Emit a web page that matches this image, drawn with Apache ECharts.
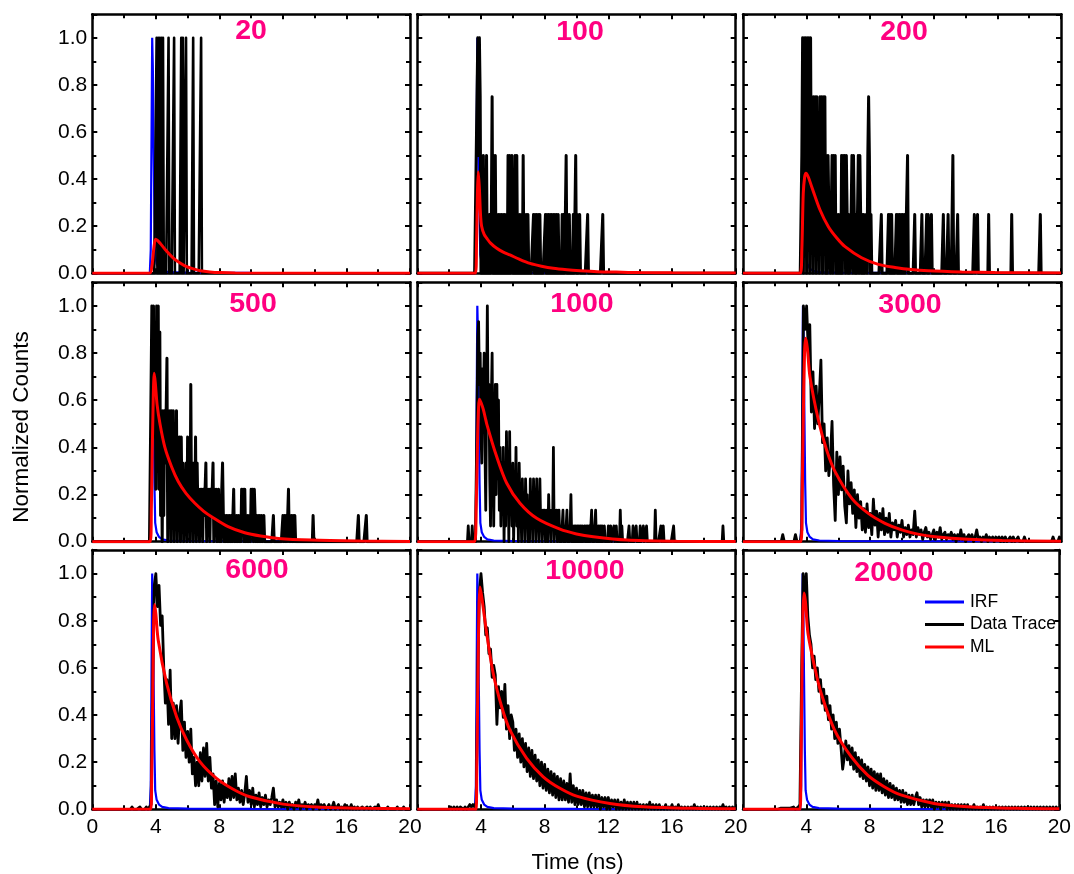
<!DOCTYPE html>
<html><head><meta charset="utf-8">
<script src="https://cdn.jsdelivr.net/npm/echarts@6/dist/echarts.min.js"></script>
<style>html,body{margin:0;padding:0;background:#fff}#c{width:1074px;height:874px}</style>
</head><body><div id="c"></div>
<script>
// ---------------- DATA ----------------
const panelTitles = ['20','100','200','500','1000','3000','6000','10000','20000'];
const xTickStep = 4;          // ns
const yTickStep = 0.2;
const channelWidth = 0.05;    // ns, photon-count histogram channels (sparse panels)
const denseStart = 2.0, denseStep = 0.1; // ns, normalized traces (high-count panels)

// Instrument response function (same for every panel)
const irf = [[0,0],[3.62,0],[3.68,0.1],[3.73,0.6],[3.77,1],[3.81,0.88],[3.86,0.55],[3.91,0.25],[3.96,0.08],[4.05,0.04],[4.2,0.02],[4.4,0.01],[4.8,0.005],[6,0.003],[10,0.002],[20,0.001]];

// Photon counts per channel ([time ns, counts])
const counts20 = [[4.05,1],[4.15,1],[4.25,1],[4.35,1],[4.45,1],[4.8,1],[5.15,1],[5.6,1],[5.7,1],[5.9,1],[6.35,1],[6.85,1]];

const counts100Start = 3.70;
const counts100 = [0,3,4,2,4,3,0,1,0,2, 0,1,0,2,0,1,0,1,0,1, 3,0,2,0,2,0,1,0,1,0, 1,0,1,0,1,0,1,0,1,0, 2,0,2,0,0,2,0,1,0,2, 0,2,0,1,0,1,0,1,0,2, 0,1,0,1,0,1,0,0,0,0, 0,0,1,0,1,0,1,0,1,0, 1,0,0,0,0,0,0,1,0,1, 0,1,0,1,0,1,0,1,0,1, 0,1,0,1,0,0,0,0,1,0, 1,0,0,2,0,1,0,1,0,0, 0,0,1,0,0,2,0,1,0,0, 1];
const tail100 = [[10.7,1],[11.65,1]];

const counts200Start = 3.65;
const counts200 = [0,2,4,0,4,1,4,0,4,1, 4,0,4,1,3,0,3,1,3,0, 3,1,2,0,3,1,3,0,3,1, 3,0,2,0,2,1,1,0,1,2, 0,2,1,2,0,1,0,1,0,1, 0,2,0,2,1,2,0,2,1,0, 1,0,0,1,2,0,2,1,0,1, 0,1,2,0,2,1,0,1,0,1, 0,0,1,0,2,3,2,0,1,0];
const tail200 = [[8.7,1],[9.15,1],[9.25,1],[9.35,1],[9.65,1],[9.75,1],[9.85,1],[9.95,1],[10.05,1],[10.15,1],[10.35,2],[10.8,1],[11.25,1],[11.55,1],[11.65,1],[11.85,1],[12.6,1],[12.9,1],[13.2,2],[13.5,1],[14.55,1],[14.75,1],[15.45,1],[16.9,1],[18.7,1]];

const counts500Start = 3.70;
const counts500 = [0,9,5,9,4,8,2,9,3,9, 2,8,1,5,0,5,1,5,3,5, 7,0,5,2,5,0,5,1,5,0, 4,1,5,0,4,1,4,0,4,1, 3,0,2,1,3,0,4,1,3,0, 6,1,3,0,3,1,4,0,3,1, 2,0,2,1,2,0,2,1,2,3, 0,2,1,2,0,2,1,2,3,0, 2,1,2,0,1,2,0,1,0,2, 3,1,0,1,0,1,0,1,0,1, 0,1,0,1,2,0,1,0,1,0, 1,0,1,0,2,1,2,0,2,0, 1,0,1,0,1,0,2,1,2,0, 2,1,0,1,0,1,0,1,0,1];
const tail500 = [[10.8,1],[11.4,1],[12.0,1],[12.1,1],[12.2,1],[12.35,2],[12.45,1],[12.55,1],[12.65,1],[12.75,1],[13.9,1],[16.75,1],[17.25,1]];

const counts1000Start = 3.70;
const counts1000 = [0,8,13,14,10,12,7,5,11,9, 12,6,2,9,15,8,10,4,1,9, 12,5,1,6,10,3,10,4,9,2, 6,1,5,2,6,0,5,1,7,3, 5,0,7,2,4,1,5,0,3,2, 6,1,4,0,5,2,3,0,4,1, 3,0,4,2,3,0,2,0,4,1, 3,0,4,2,3,0,4,1,2,0, 4,1,2,0,2,1,2,0,1,2, 0,3,1,2,0,2,1,6,0,2, 1,2,0,1,2,0,1,0,1,2, 0,1,0,1,2,0,1,0,1,3, 0,1,0,1,0,1,0,1,0,1, 0,1,0,1,0,0,1,0,1,0, 1,0,1,0,1,2,0,1,0,1, 2,0,1,0,1,0,1,0,1,0, 0,1];
const tail1000 = [[3.2,1],[3.45,1],[12.0,1],[12.15,1],[12.35,1],[12.5,1],[12.75,2],[12.85,1],[13.3,1],[13.55,1],[13.75,1],[14.0,1],[14.2,1],[14.4,1],[14.95,2],[15.3,1],[15.45,1],[16.1,1],[19.2,1]];

// Normalized traces, one value every 0.1 ns from 2.0 ns to 20.0 ns
const trace3000 = [0,0,0,0,0,0.03,0,0,0,0, 0,0,0,0.03,0,0,0,0.05,1.0,0.9, 1.0,0.82,0.92,0.55,0.72,0.48,0.66,0.5,0.62,0.77, 0.42,0.5,0.3,0.44,0.28,0.36,0.51,0.24,0.09,0.38, 0.2,0.36,0.22,0.32,0.15,0.08,0.3,0.16,0.25,0.12, 0.22,0.06,0.2,0.1,0.17,0.05,0.14,0.04,0.16,0.06, 0.12,0.03,0.18,0.07,0.13,0.02,0.12,0.05,0.14,0.03, 0.1,0.04,0.12,0.02,0.08,0.05,0.09,0.02,0.07,0.04, 0.09,0.02,0.06,0.03,0.07,0.02,0.05,0.03,0.13,0.02, 0.06,0.03,0.05,0.01,0.04,0.06,0.02,0.04,0.01,0.03, 0.05,0.01,0.04,0.02,0.06,0.01,0.03,0.04,0.01,0.03, 0.02,0.04,0.01,0.03,0,0.03,0.01,0.05,0.01,0.03, 0,0.02,0.03,0.01,0.03,0,0.02,0.05,0.01,0.02, 0,0.02,0.01,0.03,0,0.02,0.01,0.02,0,0.02, 0.01,0.02,0,0.02,0,0.02,0,0,0.02,0, 0.02,0,0,0.02,0,0,0,0.02,0,0, 0,0,0,0,0,0,0,0,0,0, 0,0,0,0,0,0.02,0,0,0,0.02, 0];
const trace6000 = [0,0,0,0,0,0.01,0,0,0,0, 0.01,0,0,0,0.01,0,0,0.02,0.55,0.95, 1.0,0.86,0.95,0.78,0.82,0.6,0.45,0.55,0.36,0.59, 0.3,0.45,0.3,0.44,0.28,0.41,0.46,0.25,0.37,0.22, 0.33,0.2,0.34,0.15,0.22,0.1,0.2,0.1,0.24,0.12, 0.26,0.14,0.28,0.12,0.22,0.09,0.15,0.02,0.12,0.01, 0.11,0.04,0.12,0.03,0.1,0.05,0.13,0.04,0.14,0.05, 0.15,0.04,0.09,0.03,0.08,0.02,0.07,0.14,0.03,0.08, 0.02,0.09,0.01,0.06,0.02,0.07,0.01,0.05,0.02,0.06, 0.01,0.04,0.02,0.05,0.09,0.01,0.04,0.01,0.03,0.01, 0.04,0.01,0.03,0,0.03,0.01,0.02,0,0.03,0.01, 0.04,0,0.02,0.01,0.03,0,0.02,0.01,0.02,0, 0.02,0.01,0.04,0,0.02,0.01,0.02,0,0.01,0.02, 0,0.01,0.03,0,0.01,0.02,0,0.01,0,0.02, 0,0.01,0,0.02,0,0.01,0,0.01,0,0, 0.01,0,0,0.01,0,0.01,0,0,0.01,0, 0.02,0,0,0,0,0,0.01,0,0,0, 0,0,0.01,0,0,0,0.01,0,0,0, 0];
const trace10000 = [0,0.01,0,0.01,0,0.01,0,0.01,0.01,0, 0.01,0,0.01,0.02,0.01,0.02,0.01,0.03,0.6,0.92, 1.0,0.92,0.86,0.74,0.77,0.66,0.68,0.56,0.61,0.57, 0.36,0.52,0.43,0.5,0.39,0.53,0.34,0.44,0.3,0.4, 0.37,0.25,0.34,0.22,0.32,0.2,0.3,0.18,0.28,0.16, 0.26,0.14,0.25,0.13,0.23,0.12,0.21,0.1,0.2,0.09, 0.19,0.08,0.17,0.07,0.16,0.06,0.15,0.05,0.14,0.04, 0.13,0.04,0.12,0.04,0.11,0.03,0.15,0.03,0.1,0.02, 0.09,0.02,0.08,0.02,0.08,0.01,0.07,0.01,0.07,0.01, 0.06,0.01,0.06,0.01,0.06,0,0.05,0.01,0.05,0, 0.05,0,0.04,0.01,0.04,0,0.04,0,0.03,0, 0.04,0,0.03,0,0.03,0,0.03,0,0.03,0, 0.02,0,0.02,0,0.02,0,0.03,0,0.02,0, 0.02,0,0.02,0,0.01,0,0.02,0,0.01,0, 0.02,0,0.01,0,0.02,0,0.01,0,0.01,0, 0.01,0,0.01,0,0.02,0,0.01,0,0.01,0, 0.01,0,0.01,0,0.01,0,0.01,0,0.01,0, 0.01,0,0.02,0,0.01,0,0.01,0,0.01,0, 0.01];
const trace20000 = [0,0,0,0,0.005,0,0.005,0,0.005,0, 0.005,0,0.01,0,0.005,0.01,0.02,0.55,1.0,0.9, 1.0,0.82,0.74,0.7,0.6,0.65,0.55,0.6,0.5,0.55, 0.45,0.51,0.42,0.48,0.38,0.44,0.34,0.4,0.3,0.37, 0.28,0.34,0.26,0.17,0.22,0.29,0.21,0.27,0.19,0.26, 0.17,0.24,0.16,0.22,0.14,0.21,0.13,0.19,0.12,0.18, 0.1,0.17,0.09,0.16,0.08,0.15,0.08,0.15,0.07,0.13, 0.06,0.12,0.05,0.11,0.05,0.1,0.04,0.09,0.04,0.08, 0.03,0.08,0.03,0.07,0.02,0.06,0.02,0.06,0.02,0.05, 0.07,0.02,0.05,0.01,0.04,0.01,0.04,0.01,0.04,0.01, 0.04,0,0.03,0.01,0.03,0,0.03,0.01,0.03,0, 0.03,0,0.02,0,0.02,0,0.02,0,0.02,0, 0.02,0,0.02,0,0.01,0,0.02,0,0.01,0, 0.01,0,0.02,0,0.01,0,0.01,0,0.01,0, 0.01,0,0.01,0,0.01,0,0.01,0,0.01,0, 0.01,0,0.01,0,0.01,0,0.01,0,0.01,0, 0.01,0,0.01,0,0.01,0,0.01,0,0.01,0, 0.01,0,0.01,0,0.01,0,0.01,0,0.01,0, 0.01];

// Maximum-likelihood fits ([time ns, normalized counts])
const ml20 = [[0,0],[3.6,0],[3.75,0.03],[3.88,0.11],[3.98,0.145],[4.1,0.14],[4.3,0.125],[4.6,0.1],[5.1,0.064],[5.5,0.045],[5.94,0.028],[6.4,0.018],[6.8,0.011],[7.4,0.006],[8,0.003],[9,0.001],[20,0]];
const ml100 = [[0,0],[3.65,0],[3.72,0.12],[3.78,0.35],[3.83,0.43],[3.9,0.36],[3.97,0.25],[4.04,0.2],[4.2,0.165],[4.36,0.149],[4.6,0.128],[4.99,0.106],[5.4,0.09],[5.82,0.078],[6.4,0.06],[7.08,0.042],[7.8,0.03],[8.54,0.021],[9.4,0.015],[10.22,0.011],[11.3,0.007],[12.5,0.005],[14,0.003],[16,0.002],[20,0.001]];
const ml200 = [[0,0],[3.6,0],[3.7,0.1],[3.79,0.34],[3.88,0.41],[3.96,0.425],[4.1,0.41],[4.32,0.368],[4.84,0.27],[5.37,0.198],[5.9,0.15],[6.42,0.113],[7.46,0.066],[8.51,0.038],[9.56,0.025],[10.6,0.016],[11.65,0.011],[13.75,0.006],[15.85,0.003],[20,0.001]];
const ml500 = [[0,0],[3.65,0],[3.72,0.15],[3.77,0.36],[3.84,0.62],[3.9,0.714],[3.97,0.67],[4.08,0.58],[4.26,0.5],[4.57,0.4],[4.99,0.318],[5.41,0.255],[5.9,0.205],[6.46,0.163],[7.0,0.13],[7.51,0.106],[8.55,0.064],[9.6,0.038],[10.6,0.024],[11.7,0.014],[13.8,0.007],[16.9,0.003],[20,0.001]];
const ml1000 = [[0,0],[3.6,0],[3.7,0.15],[3.79,0.445],[3.85,0.57],[3.9,0.604],[4.0,0.59],[4.15,0.56],[4.36,0.5],[4.99,0.36],[5.62,0.248],[6.45,0.163],[7.5,0.099],[8.96,0.053],[10,0.033],[11.06,0.021],[13.15,0.007],[16.3,0.002],[20,0.001]];
const ml3000 = [[0,0],[3.65,0],[3.72,0.2],[3.79,0.516],[3.87,0.8],[3.94,0.863],[4.05,0.82],[4.21,0.70],[4.74,0.516],[5.26,0.389],[5.79,0.297],[6.84,0.184],[7.88,0.12],[8.93,0.078],[9.98,0.05],[11,0.032],[12.08,0.021],[14.17,0.01],[16.3,0.005],[20,0.002]];
const ml6000 = [[0,0],[3.68,0],[3.74,0.15],[3.8,0.435],[3.86,0.78],[3.92,0.869],[4.0,0.83],[4.15,0.717],[4.68,0.534],[5.31,0.392],[5.94,0.294],[6.77,0.202],[7.82,0.131],[8.87,0.085],[9.92,0.053],[12.01,0.022],[14.1,0.01],[17.2,0.004],[20,0.002]];
const ml10000 = [[0,0],[3.68,0],[3.74,0.2],[3.8,0.5],[3.87,0.85],[3.94,0.943],[4.05,0.9],[4.36,0.746],[4.77,0.576],[5.3,0.435],[5.82,0.336],[6.87,0.216],[7.91,0.138],[8.96,0.089],[10.01,0.056],[12.1,0.025],[14.2,0.011],[17.3,0.004],[20,0.002]];
const ml20000 = [[0,0],[3.6,0],[3.66,0.15],[3.72,0.5],[3.79,0.83],[3.86,0.918],[3.95,0.88],[4.11,0.746],[4.53,0.604],[4.95,0.49],[5.79,0.336],[6.84,0.223],[7.88,0.145],[8.93,0.096],[9.98,0.061],[12.08,0.025],[14.2,0.011],[17.3,0.004],[20,0.002]];

// ---------------- BUILD ----------------
function countsTrace(start, dense, tail) {
  const n = Math.round(20 / channelWidth) + 1;
  const grid = new Array(n).fill(0);
  if (dense) {
    const i0 = Math.round(start / channelWidth);
    dense.forEach((c, i) => { grid[i0 + i] = c; });
  }
  (tail || []).forEach(([t, c]) => { grid[Math.round(t / channelWidth)] = c; });
  const max = Math.max(...grid);
  return grid.map((c, i) => [+(i * channelWidth).toFixed(2), c / max]);
}
function normTrace(values) {
  return [[0, 0]].concat(values.map((v, i) => [+(denseStart + i * denseStep).toFixed(2), v]));
}
const dataTraces = [
  countsTrace(0, null, counts20),
  countsTrace(counts100Start, counts100, tail100),
  countsTrace(counts200Start, counts200, tail200),
  countsTrace(counts500Start, counts500, tail500),
  countsTrace(counts1000Start, counts1000, tail1000),
  normTrace(trace3000),
  normTrace(trace6000),
  normTrace(trace10000),
  normTrace(trace20000)
];
const mlFits = [ml20, ml100, ml200, ml500, ml1000, ml3000, ml6000, ml10000, ml20000];

// ---------------- LAYOUT ----------------
const FONT = '"Liberation Sans", Arial, Helvetica, sans-serif';
const colLeft = [92.3, 417.3, 743];
const colWidth = [317.7, 318.4, 318];
const rowTop = [14.3, 282.3, 550];
const rowBottom = [273.3, 541.7, 809.3];
const titleX = [251, 580, 904, 253, 582, 910, 257, 585, 894];
const titleY = [31.5, 32, 32, 304.5, 304.5, 305, 570, 570.7, 573];
const traceWidth = [2.6, 3, 3, 3, 2.8, 2.8, 2.8, 2.8, 2.8];

const grids = [], xAxes = [], yAxes = [], series = [], graphics = [];
const axisLine = { show: true, onZero: false, lineStyle: { color: '#000', width: 2.5 } };
const tick = { show: true, inside: true, length: 5, lineStyle: { color: '#000', width: 2 } };

for (let i = 0; i < 9; i++) {
  const r = Math.floor(i / 3), c = i % 3;
  grids.push({ left: colLeft[c], top: rowTop[r], width: colWidth[c], height: rowBottom[r] - rowTop[r] });
  const xBase = {
    gridIndex: i, type: 'value', min: 0, max: 20, interval: xTickStep,
    axisLine, axisTick: tick,
    minorTick: { show: true, splitNumber: 2, length: 4, lineStyle: { color: '#000', width: 2 } },
    splitLine: { show: false }, minorSplitLine: { show: false }
  };
  xAxes.push(Object.assign({}, xBase, {
    position: 'bottom',
    axisLabel: { show: r === 2, showMinLabel: c === 0, showMaxLabel: true, fontSize: 21, color: '#000', fontFamily: FONT, margin: 7 }
  }));
  xAxes.push(Object.assign({}, xBase, { position: 'top', axisLabel: { show: false } }));
  const yBase = {
    gridIndex: i, type: 'value', min: 0, max: 1.1, interval: yTickStep,
    axisLine, axisTick: tick,
    minorTick: { show: true, splitNumber: 2, length: 4, lineStyle: { color: '#000', width: 2 } },
    splitLine: { show: false }, minorSplitLine: { show: false }
  };
  yAxes.push(Object.assign({}, yBase, {
    position: 'left',
    axisLabel: { show: c === 0, showMaxLabel: false, fontSize: 21, color: '#000', fontFamily: FONT, margin: 5,
      formatter: v => (v > 1.05 ? '' : v.toFixed(1)) }
  }));
  yAxes.push(Object.assign({}, yBase, { position: 'right', axisLabel: { show: false } }));

  const xi = 2 * i, yi = 2 * i;
  series.push({
    name: 'IRF', type: 'line', xAxisIndex: xi, yAxisIndex: yi, data: irf,
    showSymbol: false, symbol: 'none', lineStyle: { color: '#0000ff', width: 2.2 }, itemStyle: { color: '#0000ff' }, z: 2
  });
  series.push({
    name: 'Data Trace', type: 'line', xAxisIndex: xi, yAxisIndex: yi, data: dataTraces[i],
    showSymbol: false, symbol: 'none',
    lineStyle: { color: '#000', width: traceWidth[i], join: 'round' }, itemStyle: { color: '#000' }, z: 3
  });
  series.push({
    name: 'ML', type: 'line', xAxisIndex: xi, yAxisIndex: yi, data: mlFits[i],
    showSymbol: false, symbol: 'none', smooth: 0.3, lineStyle: { color: '#ff0000', width: 3 }, itemStyle: { color: '#ff0000' }, z: 4
  });

  graphics.push({
    type: 'text', x: titleX[i], y: titleY[i], z: 100,
    style: { text: panelTitles[i], fill: '#ff0080', font: 'bold 28.5px ' + FONT,
      align: 'center', verticalAlign: 'middle', textAlign: 'center', textVerticalAlign: 'middle' }
  });
}

graphics.push({
  type: 'text', x: 22, y: 427, rotation: Math.PI / 2, z: 100,
  style: { text: 'Normalized Counts', fill: '#000', font: '22.5px ' + FONT,
    align: 'center', verticalAlign: 'middle', textAlign: 'center', textVerticalAlign: 'middle' }
});
graphics.push({
  type: 'text', x: 577.5, y: 863, z: 100,
  style: { text: 'Time (ns)', fill: '#000', font: '22px ' + FONT,
    align: 'center', verticalAlign: 'middle', textAlign: 'center', textVerticalAlign: 'middle' }
});

const chart = echarts.init(document.getElementById('c'), null, { renderer: 'canvas' });
chart.setOption({
  animation: false,
  backgroundColor: '#fff',
  grid: grids, xAxis: xAxes, yAxis: yAxes, series,
  legend: {
    data: ['IRF', 'Data Trace', 'ML'], orient: 'vertical', left: 925, top: 593, padding: 0,
    itemWidth: 39, itemHeight: 3, itemGap: 4.5, icon: 'rect', selectedMode: false,
    textStyle: { fontSize: 17.5, color: '#000', fontFamily: FONT, padding: [0, 0, 0, 1] }
  },
  graphic: graphics
});
</script></body></html>
